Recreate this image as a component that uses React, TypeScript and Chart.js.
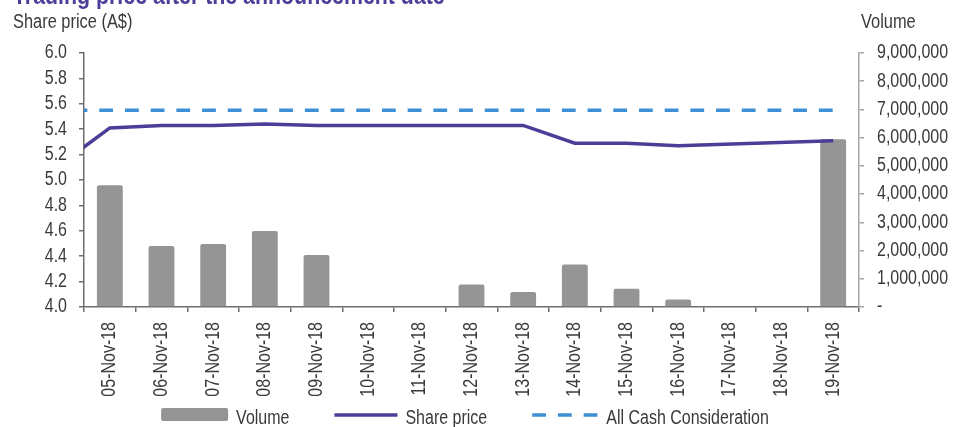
import React, { useEffect, useRef } from 'react';
import { Chart, registerables } from 'chart.js';

Chart.register(...registerables);

// ---------- data ----------
const chartTitle = 'Trading price after the announcement date';
const leftAxisTitle = 'Share price (A$)';
const rightAxisTitle = 'Volume';

const dates = [
  '05-Nov-18', '06-Nov-18', '07-Nov-18', '08-Nov-18', '09-Nov-18',
  '10-Nov-18', '11-Nov-18', '12-Nov-18', '13-Nov-18', '14-Nov-18',
  '15-Nov-18', '16-Nov-18', '17-Nov-18', '18-Nov-18', '19-Nov-18',
];
const volume = [
  4310000, 2160000, 2230000, 2690000, 1840000,
  0, 0, 800000, 530000, 1510000,
  650000, 270000, 0, 0, 5940000,
];
const sharePrice: (number | null)[] = [
  5.41, 5.43, 5.43, 5.44, 5.43,
  5.43, 5.43, 5.43, 5.43, 5.29,
  5.29, 5.27, null, null, 5.31,
];
// close on the trading day before 05-Nov-18 (the line enters from the left edge)
const priorClose = 5.11;
const allCashConsideration = 5.55;

const priceMin = 4.0;
const priceMax = 6.0;
const priceStep = 0.2;
const volumeMin = 0;
const volumeMax = 9000000;
const volumeStep = 1000000;

// ---------- styles ----------
const FONT = "'Liberation Sans', Arial, sans-serif";
const NARROW = 0.82; // horizontal squeeze to imitate Arial Narrow
const TEXT = '#3a3a3a';
const BAR = '#959595';
const PRICE = '#4a3f98';
const CONSIDERATION = '#3d8fd6';
const AXIS = '#6e6e6e';
const AXIS_R = '#a6a6a6';

const decorPlugin = {
  id: 'decor',
  beforeDraw(chart: any) {
    const ctx: any = chart.ctx;
    if (ctx.__origFillText) return;
    const orig = ctx.fillText;
    ctx.__origFillText = orig;
    ctx.fillText = function (text: string, x: number, y: number, maxWidth?: number) {
      this.save();
      this.translate(x, y);
      this.scale(NARROW, 1);
      if (maxWidth === undefined || maxWidth === null) orig.call(this, text, 0, 0);
      else orig.call(this, text, 0, 0, maxWidth / NARROW);
      this.restore();
    };
  },
  afterDraw(chart: any) {
    const ctx: any = chart.ctx;
    ctx.save();
    // title (clipped at the top of the picture)
    ctx.font = `bold 24px ${FONT}`;
    const w = ctx.measureText(chartTitle).width * NARROW;
    const size = (24 * 432) / w;
    ctx.font = `bold ${size}px ${FONT}`;
    ctx.fillStyle = '#4b3f99';
    ctx.textAlign = 'left';
    ctx.textBaseline = 'alphabetic';
    ctx.fillText(chartTitle, 13, 4);

    // axis titles
    ctx.font = `20px ${FONT}`;
    ctx.fillStyle = TEXT;
    ctx.fillText(leftAxisTitle, 13, 28);
    ctx.fillText(rightAxisTitle, 861, 28);

    // legend
    const ds = chart.data.datasets;
    const sampleW = [67, 63, 66];
    const textGap = 8;
    const itemGap = 45;
    ctx.font = `19.5px ${FONT}`;
    const widths = ds.map((d: any, i: number) => sampleW[i] + textGap + ctx.measureText(d.label).width * NARROW);
    const total = widths.reduce((a: number, b: number) => a + b, 0) + itemGap * (ds.length - 1);
    let x = 465 - total / 2;
    const cy = 415;
    ds.forEach((d: any, i: number) => {
      if (d.type === 'bar') {
        ctx.fillStyle = d.backgroundColor;
        ctx.beginPath();
        ctx.roundRect ? ctx.roundRect(x, cy - 7, sampleW[i], 13, 2) : ctx.rect(x, cy - 7, sampleW[i], 13);
        ctx.fill();
      } else {
        ctx.strokeStyle = d.borderColor;
        ctx.lineWidth = d.borderWidth;
        ctx.setLineDash(d.borderDash || []);
        ctx.lineDashOffset = 0;
        ctx.beginPath();
        ctx.moveTo(x, cy);
        ctx.lineTo(x + sampleW[i], cy);
        ctx.stroke();
        ctx.setLineDash([]);
      }
      ctx.fillStyle = TEXT;
      ctx.fillText(d.label, x + sampleW[i] + textGap, 424);
      x += widths[i] + itemGap;
    });
    ctx.restore();

    if (ctx.__origFillText) {
      ctx.fillText = ctx.__origFillText;
      delete ctx.__origFillText;
    }
  },
};

export default function App() {
  const ref = useRef<HTMLCanvasElement | null>(null);

  useEffect(() => {
    document.body.style.margin = '0';
    if (!ref.current) return;
    const priceData = [
      { x: -1, y: priorClose },
      ...sharePrice.map((y, i) => ({ x: i, y })),
    ];
    const considerationData = [
      { x: -1, y: allCashConsideration },
      { x: dates.length - 1, y: allCashConsideration },
    ];
    const tickFont = { family: FONT, size: 19.5 };

    const chart = new Chart(ref.current, {
      type: 'bar',
      data: {
        labels: dates,
        datasets: [
          {
            type: 'bar',
            label: 'Volume',
            data: volume,
            backgroundColor: BAR,
            xAxisID: 'x',
            yAxisID: 'yVolume',
            grouped: false,
            barPercentage: 0.5,
            categoryPercentage: 1,
            borderRadius: 2,
            order: 2,
          },
          {
            type: 'line',
            label: 'Share price',
            data: priceData as any,
            xAxisID: 'xLine',
            yAxisID: 'yPrice',
            borderColor: PRICE,
            borderWidth: 3.5,
            pointRadius: 0,
            spanGaps: true,
            tension: 0,
            order: 1,
          },
          {
            type: 'line',
            label: 'All Cash Consideration',
            data: considerationData as any,
            xAxisID: 'xLine',
            yAxisID: 'yPrice',
            borderColor: CONSIDERATION,
            borderWidth: 3.5,
            borderDash: [13.8, 11.9],
            borderDashOffset: 10.3,
            pointRadius: 0,
            tension: 0,
            order: 0,
          },
        ] as any,
      },
      options: {
        responsive: false,
        animation: false,
        layout: { padding: { top: 53, left: 0, right: 0, bottom: 0 } },
        plugins: {
          legend: { display: false },
          title: { display: false },
          tooltip: { enabled: false },
        },
        scales: {
          x: {
            type: 'category',
            position: 'bottom',
            offset: true,
            grid: { offset: true, drawOnChartArea: false, tickLength: 5, color: AXIS, lineWidth: 1.5 },
            border: { color: AXIS, width: 1.5 },
            ticks: {
              minRotation: 90,
              maxRotation: 90,
              autoSkip: false,
              padding: 10,
              font: tickFont,
              color: TEXT,
            },
            afterFit(s: any) {
              s.height = 120;
            },
          },
          xLine: {
            type: 'linear',
            position: 'bottom',
            display: false,
            offset: false,
            grid: { offset: false },
            min: -0.5,
            max: dates.length - 0.5,
          },
          yPrice: {
            type: 'linear',
            position: 'left',
            min: priceMin,
            max: priceMax,
            ticks: {
              stepSize: priceStep,
              autoSkip: false,
              padding: 12,
              font: tickFont,
              color: TEXT,
              callback: (v: any) => Number(v).toFixed(1),
            },
            grid: { drawOnChartArea: false, tickLength: 5, color: AXIS, lineWidth: 1.5 },
            border: { color: AXIS, width: 1.5 },
            afterFit(s: any) {
              s.width = 84;
            },
          },
          yVolume: {
            type: 'linear',
            position: 'right',
            min: volumeMin,
            max: volumeMax,
            ticks: {
              stepSize: volumeStep,
              autoSkip: false,
              padding: 13,
              font: tickFont,
              color: TEXT,
              callback: (v: any) => (Number(v) === 0 ? '-' : Number(v).toLocaleString('en-US')),
            },
            grid: { drawOnChartArea: false, tickLength: 5, color: AXIS_R, lineWidth: 1.5 },
            border: { color: AXIS_R, width: 1.5 },
            afterFit(s: any) {
              s.width = 94;
            },
          },
        } as any,
      },
      plugins: [decorPlugin],
    });
    return () => chart.destroy();
  }, []);

  return (
    <div style={{ width: 953, height: 427, background: '#ffffff' }}>
      <canvas ref={ref} width={953} height={427} />
    </div>
  );
}
